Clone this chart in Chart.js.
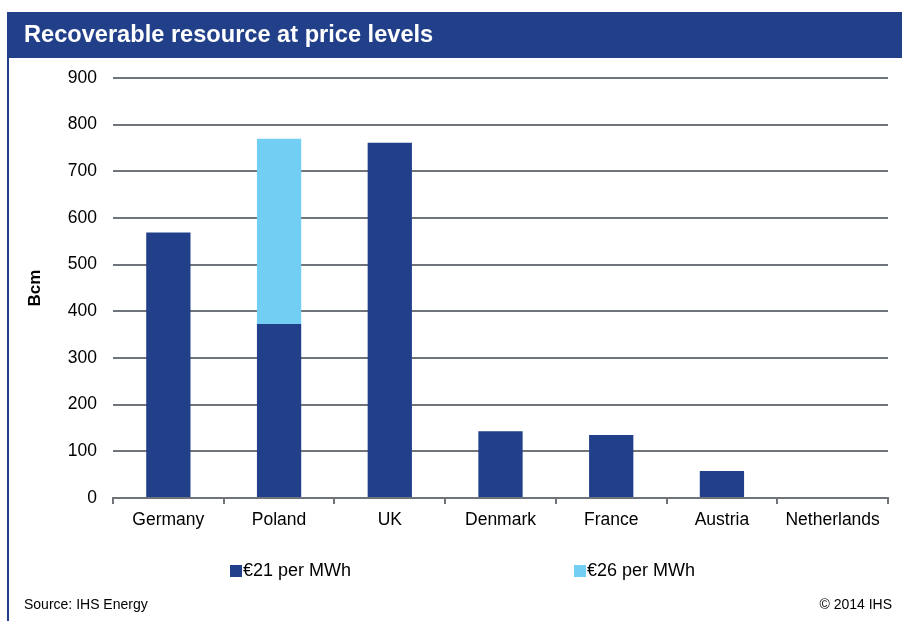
<!DOCTYPE html>
<html>
<head>
<meta charset="utf-8">
<script src="https://cdn.jsdelivr.net/npm/chart.js@4/dist/chart.umd.min.js"></script>
<style>
  html, body { margin: 0; padding: 0; background: #ffffff; }
  #wrap { position: relative; width: 902px; height: 621px; }
</style>
</head>
<body>
<div id="wrap"><canvas id="resourceChart" width="902" height="621"></canvas></div>
<script>
const countries = ['Germany', 'Poland', 'UK', 'Denmark', 'France', 'Austria', 'Netherlands'];
const at21 = [569, 373, 761, 143, 135, 58, 0];
const at26 = [null, 397, null, null, null, null, null];
const seriesNames = ['€21 per MWh', '€26 per MWh'];
const yTicks = [0, 100, 200, 300, 400, 500, 600, 700, 800, 900];

const navy = '#22408a';
const sky = '#72cff3';
const gridGrey = '#6e747a';
const fontFamily = "'Liberation Sans', Arial, Helvetica, sans-serif";

Chart.defaults.font.family = fontFamily;
Chart.defaults.color = '#000000';

// title bar, frame line, custom legend and footer texts
const decorations = {
    id: 'decorations',
    beforeDraw(chart) {
        const ctx = chart.ctx;
        ctx.save();
        ctx.fillStyle = '#ffffff';
        ctx.fillRect(0, 0, chart.width, chart.height);
        ctx.fillStyle = navy;
        ctx.fillRect(8, 12, chart.width - 8, 46);
        ctx.fillRect(7, 12, 2, chart.height - 12);
        ctx.fillStyle = '#ffffff';
        ctx.font = 'bold 23.6px ' + fontFamily;
        ctx.textBaseline = 'middle';
        ctx.fillText('Recoverable resource at price levels', 24, 35);
        ctx.restore();
    },
    afterDraw(chart) {
        const ctx = chart.ctx;
        ctx.save();
        const legendX = [230, 574];
        ctx.font = '18px ' + fontFamily;
        ctx.textBaseline = 'middle';
        chart.data.datasets.forEach((ds, i) => {
            ctx.fillStyle = ds.backgroundColor;
            ctx.fillRect(legendX[i], 565, 12, 12);
            ctx.fillStyle = '#000000';
            ctx.fillText(ds.label, legendX[i] + 13, 571);
        });
        ctx.font = '14px ' + fontFamily;
        ctx.fillText('Source: IHS Energy', 24, 605);
        ctx.textAlign = 'right';
        ctx.fillText('© 2014 IHS', 892, 605);
        ctx.restore();
    }
};

new Chart(document.getElementById('resourceChart'), {
    type: 'bar',
    data: {
        labels: countries,
        datasets: [{
            label: seriesNames[0],
            data: at21,
            backgroundColor: navy,
            categoryPercentage: 1,
            barPercentage: 0.4
        }, {
            label: seriesNames[1],
            data: at26,
            backgroundColor: sky,
            categoryPercentage: 1,
            barPercentage: 0.4
        }]
    },
    options: {
        responsive: false,
        animation: false,
        layout: {
            padding: { top: 78, right: 14, bottom: 0, left: 0 }
        },
        plugins: {
            legend: { display: false },
            tooltip: { enabled: false }
        },
        scales: {
            x: {
                stacked: true,
                afterFit: scale => { scale.height = 123; },
                grid: {
                    drawOnChartArea: false,
                    drawTicks: true,
                    tickLength: 6,
                    color: gridGrey,
                    lineWidth: 2
                },
                border: { display: true, color: gridGrey, width: 2 },
                ticks: {
                    padding: 6,
                    font: { size: 17.5 },
                    color: '#000000'
                }
            },
            y: {
                stacked: true,
                min: 0,
                max: yTicks[yTicks.length - 1],
                afterFit: scale => { scale.width = 113; },
                afterBuildTicks: scale => {
                    scale.ticks = yTicks.map(v => ({ value: v }));
                },
                grid: {
                    drawTicks: false,
                    color: gridGrey,
                    lineWidth: 2
                },
                border: { display: false },
                ticks: {
                    padding: 16,
                    font: { size: 17.5 },
                    color: '#000000'
                },
                title: {
                    display: true,
                    text: 'Bcm',
                    font: { size: 17, weight: 'bold' },
                    color: '#000000',
                    padding: { top: 25, bottom: 0 }
                }
            }
        }
    },
    plugins: [decorations]
});
</script>
</body>
</html>
